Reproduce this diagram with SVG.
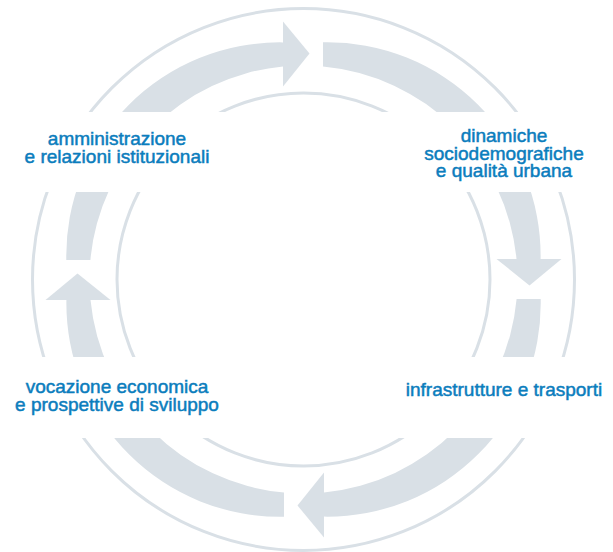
<svg xmlns="http://www.w3.org/2000/svg" xmlns:xlink="http://www.w3.org/1999/xlink" width="613" height="552" viewBox="0 0 613 552">
  <style>
    .ring { fill: none; stroke: #d9e0e6; stroke-width: 3; }
    .band { fill: #d9e0e6; }
    .backing { fill: #ffffff; }
    .lbl { font-family: "Liberation Sans", Arial, sans-serif; font-size: 19px; fill: #0b7dbd; stroke: #0b7dbd; stroke-width: 0.5px; text-anchor: middle; }
  </style>
  <defs>
    <!-- one quarter of the cycle band, centred on the origin (top to right) -->
    <path id="seg" d="M19.5,-237.2 A213.4,213.4 0 0 1 237.1,-20.5 L213,-20.5 A214,214 0 0 0 19.5,-213.1 Z"/>
    <!-- arrowhead closing the band at the top, pointing clockwise -->
    <polygon id="head" points="-20.5,-258 6,-226 -20.5,-193"/>
  </defs>

  <!-- cycle: guide circles and the four arrow segments -->
  <g id="connectors" transform="translate(303.5,279.5)">
    <circle class="ring" r="271"/>
    <circle class="ring" r="186.5"/>
    <g class="band">
      <use href="#seg"/>
      <use href="#seg" transform="rotate(90)"/>
      <use href="#seg" transform="rotate(180)"/>
      <use href="#seg" transform="rotate(270)"/>
      <use href="#head"/>
      <use href="#head" transform="rotate(90)"/>
      <use href="#head" transform="rotate(180)"/>
      <use href="#head" transform="rotate(270)"/>
    </g>
  </g>

  <g id="node-amministrazione">
    <rect class="backing" x="0" y="112" width="300" height="80"/>
    <text class="lbl" x="117" y="145">amministrazione</text>
    <text class="lbl" x="117" y="163">e relazioni istituzionali</text>
  </g>

  <g id="node-dinamiche">
    <rect class="backing" x="300" y="112" width="313" height="80"/>
    <text class="lbl" x="504" y="142">dinamiche</text>
    <text class="lbl" x="504" y="159.5">sociodemografiche</text>
    <text class="lbl" x="504" y="177">e qualità urbana</text>
  </g>

  <g id="node-vocazione">
    <rect class="backing" x="0" y="357" width="300" height="81"/>
    <text class="lbl" x="117" y="393">vocazione economica</text>
    <text class="lbl" x="117" y="411">e prospettive di sviluppo</text>
  </g>

  <g id="node-infrastrutture">
    <rect class="backing" x="300" y="357" width="313" height="81"/>
    <text class="lbl" x="504" y="396">infrastrutture e trasporti</text>
  </g>
</svg>
